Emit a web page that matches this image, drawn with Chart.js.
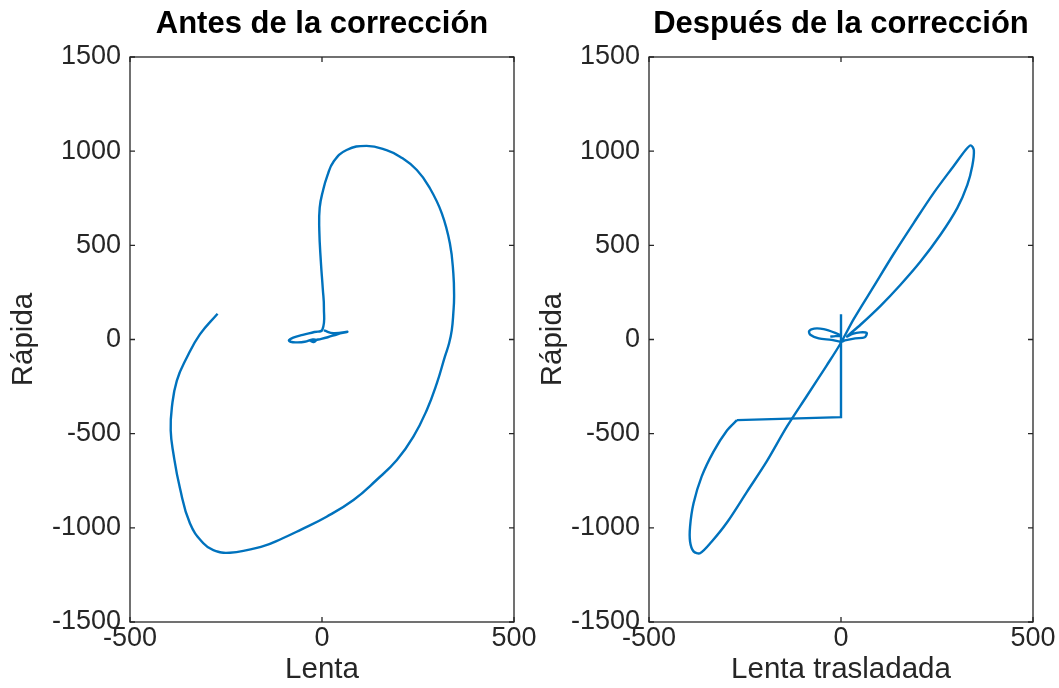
<!DOCTYPE html>
<html>
<head>
<meta charset="utf-8">
<script src="https://cdn.jsdelivr.net/npm/chart.js@4"></script>
<style>
  body { margin: 0; background: #fff; }
  #wrap { position: relative; width: 1059px; height: 688px; overflow: hidden; }
  canvas { position: absolute; top: 0; }
</style>
</head>
<body>
<div id="wrap">
  <canvas id="antes" width="580" height="688" style="left:0"></canvas>
  <canvas id="despues" width="530" height="688" style="left:529px"></canvas>
</div>
<script>
// Tick values (MATLAB-like axes)
const xTicks = [-500, 0, 500];
const yTicks = [-1500, -1000, -500, 0, 500, 1000, 1500];

// Antes de la corrección: lenta (x) vs rápida (y)
const lentaAntes = [5, 30, 66, 40, 15, -10, -24, -28, -20, -16, -24, -45, -65, -82, -86, -75, -50, -20, 1,
  5, 2, -3, -7, -6, 3, 14, 30, 64, 116, 168, 203, 247, 281, 312, 333, 342, 344, 342, 338, 331, 320, 299, 273, 238, 195,
  142, 82, 12, -57, -105, -153, -240, -283, -309, -344, -370, -387, -394, -391, -378, -352, -318, -272];
const rapidaAntes = [48, 33, 41, 28, 12, 0, -6, -10, -12, -4, 0, -12, -15, -12, -4, 10, 25, 40, 52,
  169, 271, 414, 577, 700, 794, 870, 944, 1006, 1028, 1006, 971, 900, 803, 670, 511, 352, 227, 140, 50, -20, -91, -233, -374, -516, -640,
  -746, -852, -941, -1012, -1058, -1097, -1132, -1118, -1082, -976, -789, -605, -483, -361, -218, -96, 27, 137];

// Después de la corrección: tramo recto
const lentaRecta = [0, 0, -271];
const rapidaRecta = [134, -412, -428];

// Después de la corrección: tramo curvo
const lentaCurva = [-271, -297, -332, -363, -384, -393, -393, -384, -367, -337, -297, -245, -193, -141, -89, -37, -2,
  33, 85, 137, 190, 242, 294, 325, 338, 346, 342, 329, 303, 259, 207, 155, 103, 50, 16,
  30, 50, 67, 62, 37, 10, 0, -25, -58, -80, -83, -70, -45, -15, 0, -15, -28];
const rapidaCurva = [-428, -483, -595, -728, -870, -992, -1074, -1125, -1135, -1074, -972, -809, -646, -463, -300, -137, -24,
  108, 281, 454, 621, 780, 923, 1008, 1031, 1005, 923, 821, 699, 556, 414, 291, 179, 77, 16,
  30, 38, 35, 12, 6, -5, -12, -2, 6, 25, 45, 58, 55, 35, 20, 18, 15];

function toPoints(xs, ys) {
    return xs.map(function (x, i) { return { x: x, y: ys[i] }; });
}

const axisColor = '#262626';
const lineColor = '#0072BD';
const fontFamily = 'Liberation Sans, Arial, Helvetica, sans-serif';

// draws the full box and inward ticks like MATLAB
const boxPlugin = {
    id: 'boxPlugin',
    afterDraw: function (chart) {
        const ctx = chart.ctx;
        const a = chart.chartArea;
        const xs = chart.scales.x, ys = chart.scales.y;
        ctx.save();
        ctx.strokeStyle = axisColor;
        ctx.lineWidth = 1.3;
        ctx.strokeRect(a.left, a.top, a.right - a.left, a.bottom - a.top);
        const len = 5;
        ctx.beginPath();
        xTicks.forEach(function (v) {
            const px = xs.getPixelForValue(v);
            ctx.moveTo(px, a.bottom); ctx.lineTo(px, a.bottom - len);
            ctx.moveTo(px, a.top); ctx.lineTo(px, a.top + len);
        });
        yTicks.forEach(function (v) {
            const py = ys.getPixelForValue(v);
            ctx.moveTo(a.left, py); ctx.lineTo(a.left + len, py);
            ctx.moveTo(a.right, py); ctx.lineTo(a.right - len, py);
        });
        ctx.stroke();
        ctx.restore();
    }
};

function plainLabel(v) { return String(v); }

function makeChart(id, title, xLabel, datasets, yWidth, rightPad) {
    const ctx = document.getElementById(id).getContext('2d');
    return new Chart(ctx, {
        type: 'scatter',
        data: { datasets: datasets },
        options: {
            responsive: false,
            animation: false,
            layout: { padding: { left: 0, right: rightPad, top: 0, bottom: 0 } },
            plugins: {
                legend: { display: false },
                tooltip: { enabled: false },
                title: {
                    display: true,
                    text: title,
                    fullSize: false,
                    color: '#000',
                    font: { family: fontFamily, size: 31, weight: 'bold' },
                    padding: { top: 6, bottom: 13.8 }
                }
            },
            scales: {
                x: {
                    type: 'linear',
                    min: -500, max: 500,
                    afterBuildTicks: function (s) { s.ticks = xTicks.map(function (v) { return { value: v }; }); },
                    afterFit: function (s) { s.height = 66; s.paddingLeft = 0; s.paddingRight = 0; },
                    grid: { display: false, drawTicks: false },
                    border: { display: false },
                    ticks: { color: axisColor, padding: 0, maxRotation: 0, autoSkip: false, callback: plainLabel,
                        font: { family: fontFamily, size: 27 } },
                    title: { display: true, text: xLabel, color: axisColor, padding: { top: 0, bottom: 0 },
                        font: { family: fontFamily, size: 29.5 } }
                },
                y: {
                    type: 'linear',
                    min: -1500, max: 1500,
                    afterBuildTicks: function (s) { s.ticks = yTicks.map(function (v) { return { value: v }; }); },
                    afterFit: function (s) { s.width = yWidth; s.paddingTop = 0; s.paddingBottom = 0; },
                    grid: { display: false, drawTicks: false },
                    border: { display: false },
                    ticks: { color: axisColor, padding: 9, autoSkip: false, callback: plainLabel,
                        font: { family: fontFamily, size: 27 } },
                    title: { display: true, text: 'Rápida', color: axisColor, padding: { top: 6, bottom: 0 },
                        font: { family: fontFamily, size: 29.5 } }
                }
            }
        },
        plugins: [boxPlugin]
    });
}

function lineSet(points, tension) {
    return {
        data: points,
        showLine: true,
        borderColor: lineColor,
        borderWidth: 2.4,
        pointRadius: 0,
        tension: tension,
        fill: false
    };
}

// left canvas is wider than its half so the "500" label is not cut off
makeChart('antes', 'Antes de la corrección', 'Lenta',
    [lineSet(toPoints(lentaAntes, rapidaAntes), 0.45)], 130, 66);

makeChart('despues', 'Después de la corrección', 'Lenta trasladada',
    [lineSet(toPoints(lentaRecta, rapidaRecta), 0),
     lineSet(toPoints(lentaCurva, rapidaCurva), 0.3)], 120, 26);
</script>
</body>
</html>
